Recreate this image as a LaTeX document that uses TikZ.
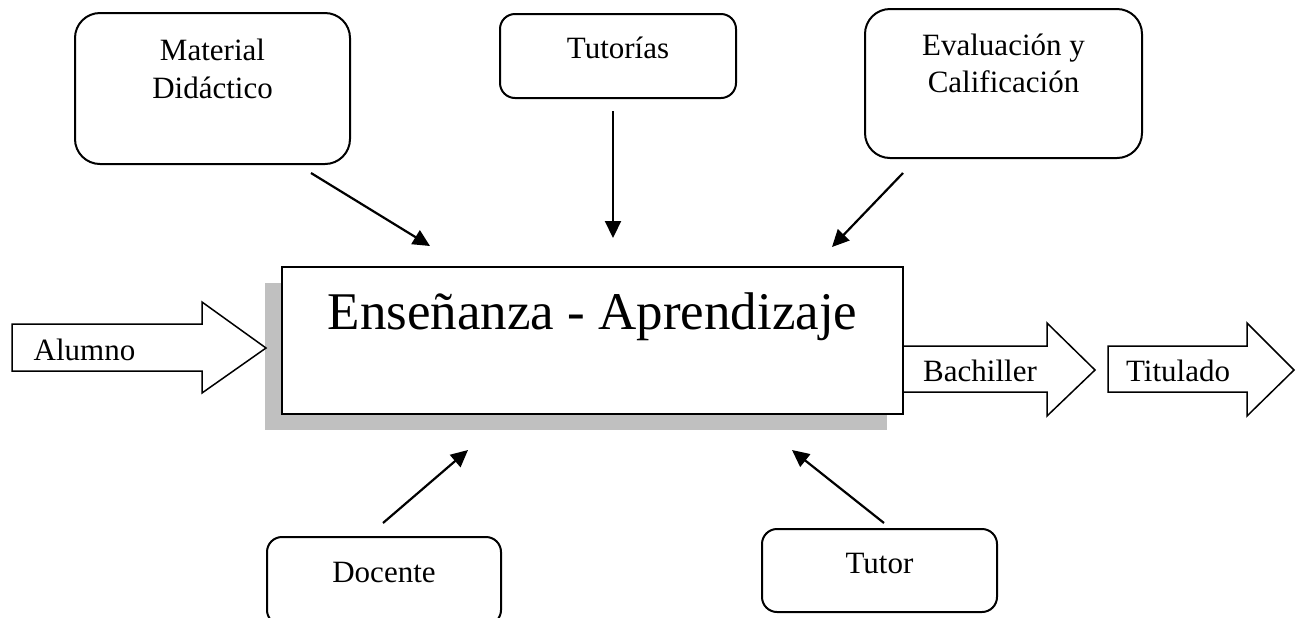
\documentclass[tikz,border=0pt]{standalone}
\usepackage{fontspec}
\setmainfont{Liberation Serif}
\usetikzlibrary{arrows.meta}
\definecolor{shadowgray}{HTML}{C0C0C0}
\begin{document}
\begin{tikzpicture}[x=0.5pt,y=-0.5pt,
  rbox/.style={draw, line width=1pt, rounded corners=#1, inner sep=0pt, outer sep=0pt},
  rbox/.default=12.5pt,
  lbl/.style={font=\fontsize{15.5}{19}\selectfont, inner sep=0pt, anchor=base},
  con/.style={line width=1.1pt, -{Triangle[length=8.5pt,width=8pt]}},
  blk/.style={draw, line width=0.75pt, fill=white, line join=miter}]
\useasboundingbox (0,0) rectangle (1296,617);
\clip (0,0) rectangle (1296,617);

% shadow and main box
\fill[shadowgray] (265,283) rectangle (887,430);
\node[draw, fill=white, line width=1.2pt, inner sep=0pt, outer sep=0pt,
      minimum width=310.5pt, minimum height=73.5pt] (main) at (592.5,340.5) {};
\node[font=\fontsize{26.5}{30}\selectfont, inner sep=0pt, anchor=base] (mainlbl) at (592.5,329) {Enseñanza - Aprendizaje};

% block arrows
\draw[blk] (12,324) -- (202,324) -- (202,302) -- (266,348) -- (202,393) -- (202,371) -- (12,371) -- cycle;
\node[lbl] (alumno) at (84.5,360) {Alumno};
\draw[blk] (903,346) -- (1047,346) -- (1047,323) -- (1095,370) -- (1047,416) -- (1047,392) -- (903,392) -- cycle;
\node[lbl] (bachiller) at (980,381) {Bachiller};
\draw[blk] (1108,346) -- (1247,346) -- (1247,323) -- (1294,370) -- (1247,416) -- (1247,392) -- (1108,392) -- cycle;
\node[lbl] (titulado) at (1178,381) {Titulado};

% rounded boxes
\node[rbox, minimum width=137.5pt, minimum height=75.5pt] (md) at (212.5,88.5) {};
\node[lbl] (md1) at (212.5,60) {Material};
\node[lbl] (md2) at (212.5,98) {Didáctico};

\node[rbox=7.5pt, minimum width=118pt, minimum height=42pt] (tut) at (618,56) {};
\node[lbl] (tut1) at (618,58) {Tutorías};

\node[rbox, minimum width=138.5pt, minimum height=74.5pt] (ev) at (1003.5,83.5) {};
\node[lbl] (ev1) at (1003.5,55) {Evaluación y};
\node[lbl] (ev2) at (1003.5,92) {Calificación};

\node[rbox=7.5pt, minimum width=117pt, minimum height=44pt] (doc) at (384,581) {};
\node[lbl] (doc1) at (384,582) {Docente};

\node[rbox=7.5pt, minimum width=117.5pt, minimum height=41.5pt] (tr) at (879.5,570.5) {};
\node[lbl] (tr1) at (879.5,573) {Tutor};

% connector end points
\coordinate (mdS) at (311,173);   \coordinate (mdE) at (430,246);
\coordinate (tutS) at (613,111);  \coordinate (tutE) at (613,238);
\coordinate (evS) at (903,173);   \coordinate (evE) at (832,247);
\coordinate (docS) at (383,523);  \coordinate (docE) at (468,450);
\coordinate (trS) at (884,523);   \coordinate (trE) at (792,450);

\draw[con] (mdS) -- (mdE);
\draw[con] (tutS) -- (tutE);
\draw[con] (evS) -- (evE);
\draw[con] (docS) -- (docE);
\draw[con] (trS) -- (trE);
\end{tikzpicture}
\end{document}
